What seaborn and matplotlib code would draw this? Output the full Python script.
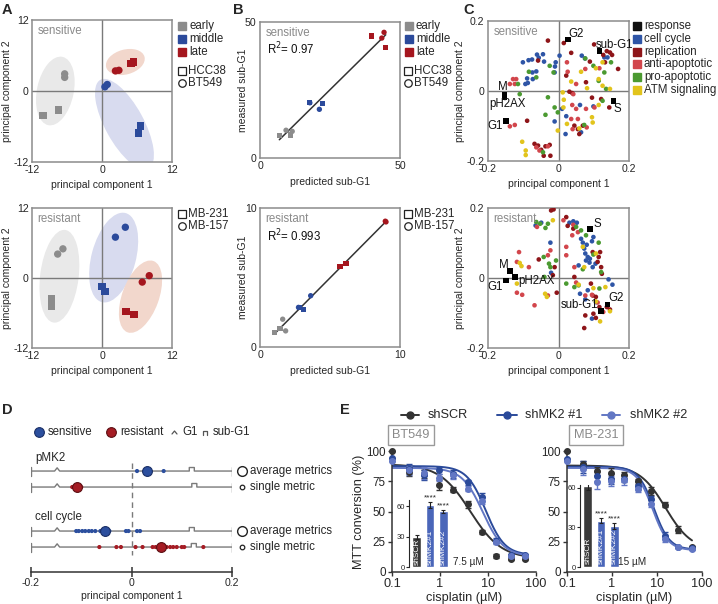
import numpy as np
import pandas as pd
import matplotlib
matplotlib.use("Agg")
import matplotlib.pyplot as plt
from matplotlib.patches import Ellipse
from matplotlib.lines import Line2D
import seaborn as sns

sns.set_style("ticks")
plt.rcParams["font.family"] = ["Liberation Sans", "DejaVu Sans"]
plt.rcParams["axes.unicode_minus"] = False

# ---------------- data ----------------
stages = ["early", "early", "early", "early", "middle", "middle", "middle", "middle",
          "late", "late", "late", "late"]

# A: PCA of time points
a_sens_line = ["HCC38", "HCC38", "BT549", "BT549", "BT549", "BT549", "HCC38", "HCC38",
               "BT549", "BT549", "HCC38", "HCC38"]
a_sens_pc1 = [-10.1, -7.5, -6.4, -6.4, 0.5, 0.9, 6.6, 6.3, 2.3, 2.9, 5.0, 5.4]
a_sens_pc2 = [-4.1, -3.2, 2.9, 2.3, 0.7, 1.1, -5.9, -7.1, 3.4, 3.5, 4.6, 4.9]
a_res_line = ["MB-157", "MB-157", "MB-231", "MB-231", "MB-157", "MB-157", "MB-231", "MB-231",
              "MB-157", "MB-157", "MB-231", "MB-231"]
a_res_pc1 = [-7.6, -6.7, -8.7, -8.7, 2.3, 4.0, 0.0, 0.5, 6.9, 8.1, 4.1, 5.5]
a_res_pc2 = [4.1, 5.0, -3.6, -4.9, 7.0, 8.7, -1.5, -2.3, -0.7, 0.4, -5.7, -6.3]
# ellipses: centre x, centre y, major, minor, angle
a_sens_ell = {"early": (-8.0, 0.0, 11.8, 6.3, 78), "middle": (3.85, -5.6, 17.1, 6.6, -61),
              "late": (4.0, 4.9, 6.8, 4.2, 15)}
a_res_ell = {"early": (-7.3, 0.3, 16.0, 6.6, 83), "middle": (2.0, 3.5, 15.8, 7.6, 75),
             "late": (6.6, -3.2, 13.0, 6.3, 70)}

# B: predicted vs measured sub-G1
b_sens_line = ["HCC38", "HCC38", "BT549", "BT549"] * 3
b_sens_pred = [6.9, 11.0, 9.3, 11.5, 17.6, 22.4, 21.2, 17.8, 39.9, 44.9, 44.3, 43.5]
b_sens_meas = [8.2, 8.5, 10.2, 9.8, 20.5, 20.1, 17.9, 20.3, 44.9, 40.6, 46.2, 44.1]
b_res_line = ["MB-231", "MB-231", "MB-157", "MB-157"] * 3
b_res_pred = [1.02, 1.43, 1.62, 1.83, 2.81, 3.10, 3.62, 2.75, 5.71, 6.14, 9.00, 8.95]
b_res_meas = [1.04, 1.33, 2.00, 1.16, 2.82, 2.70, 3.69, 2.85, 5.78, 6.02, 9.00, 9.05]

# C: PCA loadings per metric class
c_sens_response = [("G2", 0.026, 0.147), ("sub-G1", 0.116, 0.114), ("M", -0.153, -0.011),
                   ("pH2AX", -0.153, -0.018), ("G1", -0.148, -0.085), ("S", 0.156, -0.028)]
c_sens_cellcycle = [(-0.101, 0.082), (-0.085, 0.088), (-0.075, 0.090), (-0.061, 0.104),
                    (-0.056, 0.095), (-0.044, 0.105), (-0.041, 0.084), (-0.008, 0.082),
                    (-0.010, 0.070), (0.003, 0.101), (-0.063, 0.056), (-0.074, 0.053),
                    (-0.089, 0.036), (-0.073, 0.034), (-0.087, 0.023), (-0.094, 0.020),
                    (-0.011, 0.053), (0.066, 0.101), (0.075, 0.093), (0.130, 0.096),
                    (0.139, 0.096), (0.010, -0.051), (0.061, -0.040), (0.099, -0.044),
                    (0.022, -0.072), (-0.011, -0.087), (0.020, -0.123), (0.064, -0.118)]
c_sens_replication = [(-0.030, 0.144), (0.015, 0.137), (0.036, 0.109), (0.101, 0.133),
                      (0.127, 0.103), (0.137, 0.114), (0.146, 0.110), (0.152, 0.103),
                      (0.169, 0.063), (0.089, 0.084), (0.132, 0.082), (-0.058, 0.087),
                      (0.022, 0.044), (0.078, 0.025), (0.031, -0.002), (0.039, -0.006),
                      (0.095, -0.019), (0.121, -0.023), (0.144, -0.047), (-0.089, -0.085),
                      (0.045, -0.099), (0.055, -0.109), (0.069, -0.099), (0.059, -0.123),
                      (-0.068, -0.151), (-0.058, -0.156), (-0.037, -0.158), (-0.025, -0.154),
                      (-0.049, -0.168), (-0.042, -0.185), (-0.023, -0.185)]
c_sens_antiapop = [(-0.129, 0.034), (-0.120, 0.034), (-0.138, 0.020), (-0.124, 0.020),
                   (0.024, 0.082), (0.026, 0.055), (0.076, 0.063), (0.050, 0.020),
                   (0.116, 0.065), (0.042, -0.009), (0.039, -0.040), (0.050, -0.051),
                   (0.036, -0.080), (0.055, -0.080), (0.078, -0.051), (0.080, -0.104),
                   (0.040, -0.109), (-0.138, -0.101), (-0.124, -0.097), (-0.063, -0.161),
                   (-0.030, -0.158), (-0.054, -0.170), (0.102, -0.047)]
c_sens_proapop = [(-0.084, 0.055), (-0.063, 0.039), (-0.025, 0.072), (-0.014, 0.053),
                  (-0.115, 0.020), (-0.110, -0.009), (-0.030, -0.018), (-0.011, -0.047),
                  (-0.037, -0.068), (0.076, 0.093), (0.099, 0.072), (0.149, 0.082),
                  (0.130, 0.053), (0.114, 0.029), (0.135, 0.006), (0.073, -0.097),
                  (0.125, -0.028), (-0.002, -0.061), (-0.044, -0.175)]
c_sens_atm = [(0.064, 0.055), (0.036, 0.027), (0.125, 0.082), (0.106, 0.065), (0.114, 0.034),
              (0.125, 0.015), (0.146, 0.006), (0.081, 0.008), (0.012, -0.004), (0.015, -0.025),
              (0.114, -0.040), (0.095, -0.075), (0.097, -0.090), (0.059, -0.107),
              (0.024, -0.094), (-0.002, -0.113), (-0.103, -0.145), (-0.093, -0.170),
              (-0.093, -0.183), (0.014, -0.047)]

c_res_response = [("S", 0.089, 0.139), ("M", -0.138, 0.019), ("pH2AX", -0.124, 0.003),
                  ("G1", -0.148, -0.007), ("G2", 0.139, -0.076), ("sub-G1", 0.121, -0.095)]
c_res_cellcycle = [(-0.065, 0.150), (-0.049, 0.158), (0.031, 0.158), (0.042, 0.162),
                   (0.052, 0.158), (0.064, 0.112), (0.069, 0.101), (0.080, 0.095),
                   (0.073, 0.084), (0.076, 0.070), (0.083, 0.060), (0.078, 0.050),
                   (0.088, 0.044), (0.097, 0.031), (0.057, 0.036), (0.089, 0.055),
                   (0.099, 0.117), (0.095, 0.105), (-0.023, 0.101), (0.061, -0.045),
                   (0.083, -0.035), (0.076, -0.061), (0.142, -0.004), (0.153, -0.019),
                   (0.095, -0.116), (0.106, -0.069), (0.105, 0.041), (-0.021, 0.015)]
c_res_replication = [(-0.021, 0.193), (-0.014, 0.196), (0.022, 0.174), (0.026, 0.149),
                     (0.042, 0.141), (0.097, 0.074), (0.118, 0.074), (0.114, 0.060),
                     (0.111, 0.046), (0.121, 0.031), (0.123, 0.012), (-0.056, 0.053),
                     (-0.011, 0.031), (-0.016, 0.008), (-0.005, -0.042), (0.092, -0.016),
                     (0.097, -0.050), (0.106, -0.054), (0.076, -0.107), (0.099, -0.102),
                     (0.106, -0.114), (0.073, -0.143), (0.116, -0.083), (0.137, -0.083),
                     (0.146, -0.090), (0.045, 0.003)]
c_res_antiapop = [(-0.061, 0.146), (0.014, 0.165), (0.042, 0.152), (0.022, 0.089),
                  (0.039, 0.122), (0.055, 0.131), (-0.112, 0.074), (-0.118, 0.046),
                  (-0.084, 0.031), (-0.030, 0.065), (-0.023, 0.079), (0.022, 0.065),
                  (0.045, 0.031), (-0.118, -0.042), (-0.103, -0.048), (-0.068, -0.078),
                  (0.050, -0.013), (0.076, -0.050), (0.095, -0.048), (0.111, -0.070),
                  (0.127, -0.097), (-0.030, -0.050)]
c_res_proapop = [(-0.063, 0.160), (-0.052, 0.155), (-0.037, 0.143), (-0.030, 0.155),
                 (0.050, 0.146), (0.064, 0.136), (0.114, 0.101), (0.099, 0.067),
                 (-0.042, 0.060), (-0.027, 0.041), (-0.023, 0.031), (-0.040, 0.003),
                 (-0.007, 0.050), (0.022, -0.016), (0.045, -0.026), (0.057, -0.021),
                 (0.116, -0.030), (0.069, 0.025), (0.121, 0.017), (0.078, 0.122)]
c_res_atm = [(-0.016, 0.165), (0.069, 0.089), (0.106, 0.070), (0.073, 0.031), (-0.110, 0.043),
             (-0.105, 0.034), (-0.118, -0.016), (-0.038, -0.045), (-0.033, -0.054),
             (0.057, -0.019), (0.099, -0.029), (0.133, -0.026), (0.106, -0.067),
             (0.118, -0.124), (0.146, -0.095)]

# D: projection of single / averaged metrics on PC1
d_pmk2_sens = [0.011, 0.026, 0.036, 0.064]
d_pmk2_sens_avg = 0.031
d_pmk2_res = [-0.118, -0.112, -0.105, -0.100]
d_pmk2_res_avg = -0.108
d_cc_sens = [-0.110, -0.105, -0.098, -0.092, -0.085, -0.079, -0.072, -0.062, -0.055, -0.044,
             -0.011, -0.006, 0.011, 0.017]
d_cc_sens_avg = -0.052
d_cc_res = [-0.064, -0.030, -0.021, 0.008, 0.022, 0.042, 0.048, 0.057, 0.070, 0.077, 0.083,
            0.090, 0.100, 0.105, 0.143]
d_cc_res_avg = 0.058
d_g1_pos = -0.148
d_subg1_pos = [0.120, 0.125, 0.120, 0.124]

# E: MTT dose response
dose = [0.1, 0.23, 0.47, 0.94, 1.875, 3.75, 7.5, 15, 30, 60]
bt_scr = [100, 83, 81, 72, 68, 56, 33, 13, 11, 11]
bt_scr_err = [0, 4, 3, 4, 2, 3, 2, 1.5, 1, 1]
bt_mk1 = [94, 85, 80, 84, 81, 74, 62, 26, 14, 14]
bt_mk1_err = [0, 4, 4, 3, 3, 2, 3, 2, 1, 1]
bt_mk2 = [92, 84, 82, 78, 80, 69, 59, 25, 13, 13]
bt_mk2_err = [0, 4, 5, 3, 3, 2, 3, 2, 1, 1]
mb_scr = [100, 89, 83.5, 82, 80, 75, 67, 55.5, 35, 20.5]
mb_scr_err = [0, 3, 3, 4, 3, 2, 3, 2, 3, 1]
mb_mk1 = [93, 87, 79, 77, 77, 71, 60, 30, 20.5, 20]
mb_mk1_err = [0, 5, 4, 4, 3, 3, 3, 3, 1, 1]
mb_mk2 = [92, 85, 74, 75, 76, 69, 56.5, 27.5, 20.5, 19]
mb_mk2_err = [0, 5, 5, 4, 4, 3, 3, 3, 1, 1]
# 4PL fit parameters: top, bottom, EC50, hill
bt_fit = {"shSCR": (89, 11, 4.3, 1.35), "shMK2 #1": (87.5, 14, 9.0, 2.2), "shMK2 #2": (86, 13, 7.8, 2.0)}
mb_fit = {"shSCR": (88, 18, 15.5, 1.5), "shMK2 #1": (87, 18.5, 8.5, 2.5), "shMK2 #2": (86, 18, 8.0, 2.5)}
bar_labels = ["shSCR", "shMK2#1", "shMK2#2"]
bt_bar = [30, 61, 55]
bt_bar_err = [2, 3, 1.5]
mb_bar = [61, 35, 31]
mb_bar_err = [3, 2, 2.5]

# ---------------- style ----------------
stage_pal = {"early": "#8c8c8c", "middle": "#2b4a9b", "late": "#a5161e"}
ell_col = {"early": "#e9e9e9", "middle": "#d8dbef", "late": "#f2d7cc"}
cat_pal = {"cell cycle": "#2e55a6", "replication": "#8e1519", "anti-apoptotic": "#d2464c",
           "pro-apoptotic": "#4b9a31", "ATM signaling": "#e2c41c"}
FRAME = "#8c8c8c"
ZERO = "#7a7a7a"
TXT_GRAY = "#8a8a8a"
LAB = 7.5
TICK = 7.6
LEG = 8.3

W, H = 718, 604
fig = plt.figure(figsize=(W / 100, H / 100), dpi=100)


def rect(l, t, r, b):
    return [l / W, 1 - b / H, (r - l) / W, (b - t) / H]


def fp(x, y):
    return x / W, 1 - y / H


def fig_marker(x, y, **kw):
    X, Y = fp(x, y)
    fig.add_artist(Line2D([X], [Y], transform=fig.transFigure, ls="", **kw))


def fig_path(xs, ys, **kw):
    fig.add_artist(Line2D([x / W for x in xs], [1 - y / H for y in ys],
                          transform=fig.transFigure, **kw))


def fig_text(x, y, s, **kw):
    X, Y = fp(x, y)
    kw.setdefault("va", "center")
    fig.text(X, Y, s, **kw)


def boxed(ax):
    for sp in ax.spines.values():
        sp.set_visible(True)
        sp.set_color(FRAME)
        sp.set_linewidth(1.1)
    ax.tick_params(length=0, pad=2.5, labelsize=TICK)


def color_legend(x, y0, items, step=12.8):
    for i, (lab, col) in enumerate(items):
        fig_marker(x, y0 + i * step, marker="s", ms=5.8, mfc=col, mec=col)
        fig_text(x + 7, y0 + i * step, lab, fontsize=LEG)


def shape_legend(x, y0, items, step=12.3):
    for i, (lab, m) in enumerate(items):
        fig_marker(x, y0 + i * step, marker=m, ms=5.4, mfc="white", mec="#222222", mew=0.9)
        fig_text(x + 6, y0 + i * step, lab, fontsize=LEG)


# ---------------- A ----------------
def pca_panel(box, pc1, pc2, lines, markers, ells, title):
    ax = fig.add_axes(rect(*box))
    for st, (cx, cy, w, h, ang) in ells.items():
        ax.add_patch(Ellipse((cx, cy), w, h, angle=ang, facecolor=ell_col[st],
                             edgecolor="none", zorder=0))
    ax.axhline(0, color=ZERO, lw=1, zorder=1)
    ax.axvline(0, color=ZERO, lw=1, zorder=1)
    df = pd.DataFrame({"pc1": pc1, "pc2": pc2, "stage": stages, "line": lines})
    sns.scatterplot(data=df, x="pc1", y="pc2", hue="stage", style="line", palette=stage_pal,
                    markers=markers, s=28, edgecolor="none", legend=False, ax=ax, zorder=3)
    ax.set(xlim=(-12, 12), ylim=(-12, 12), xticks=[-12, 0, 12], yticks=[-12, 0, 12])
    ax.set_xlabel("principal component 1", fontsize=LAB, labelpad=3)
    ax.set_ylabel("principal component 2", fontsize=LAB, labelpad=1)
    ax.text(0.04, 0.965, title, transform=ax.transAxes, color=TXT_GRAY, va="top", fontsize=LEG)
    boxed(ax)
    return ax


pca_panel((32, 20, 172, 162), a_sens_pc1, a_sens_pc2, a_sens_line,
          {"HCC38": "s", "BT549": "o"}, a_sens_ell, "sensitive")
pca_panel((32, 208, 172, 348), a_res_pc1, a_res_pc2, a_res_line,
          {"MB-231": "s", "MB-157": "o"}, a_res_ell, "resistant")
color_legend(182, 26, [(s, stage_pal[s]) for s in ["early", "middle", "late"]])
shape_legend(182, 71, [("HCC38", "s"), ("BT549", "o")])
shape_legend(182, 214, [("MB-231", "s"), ("MB-157", "o")])


# ---------------- B ----------------
def fit_panel(box, pred, meas, lines, markers, lim, title, r2):
    ax = fig.add_axes(rect(*box))
    df = pd.DataFrame({"pred": pred, "meas": meas, "stage": stages, "line": lines})
    sns.regplot(data=df, x="pred", y="meas", scatter=False, ci=None, ax=ax,
                line_kws={"color": "#333333", "lw": 1.1, "zorder": 2})
    sns.scatterplot(data=df, x="pred", y="meas", hue="stage", style="line", palette=stage_pal,
                    markers=markers, s=15, edgecolor="none", legend=False, ax=ax, zorder=3)
    ax.set(xlim=(0, lim), ylim=(0, lim), xticks=[0, lim], yticks=[0, lim])
    ax.set_xlabel("predicted sub-G1", fontsize=LAB, labelpad=4)
    ax.set_ylabel("measured sub-G1", fontsize=LAB, labelpad=-2)
    ax.text(0.04, 0.965, title, transform=ax.transAxes, color=TXT_GRAY, va="top", fontsize=LEG)
    ax.text(0.05, 0.80, r2, transform=ax.transAxes, color="#111111", va="center", fontsize=LEG)
    boxed(ax)


fit_panel((260, 22, 400, 158), b_sens_pred, b_sens_meas, b_sens_line,
          {"HCC38": "s", "BT549": "o"}, 50, "sensitive", "R$^2$= 0.97")
fit_panel((260, 208, 400, 347), b_res_pred, b_res_meas, b_res_line,
          {"MB-231": "s", "MB-157": "o"}, 10, "resistant", "R$^2$= 0.993")
color_legend(409, 26, [(s, stage_pal[s]) for s in ["early", "middle", "late"]])
shape_legend(408, 71, [("HCC38", "s"), ("BT549", "o")])
shape_legend(408, 214, [("MB-231", "s"), ("MB-157", "o")])


# ---------------- C ----------------
def loading_panel(box, groups, response, offsets, title):
    ax = fig.add_axes(rect(*box))
    ax.axhline(0, color=ZERO, lw=1, zorder=1)
    ax.axvline(0, color=ZERO, lw=1, zorder=1)
    rows = [(cat, x, y) for cat, pts in groups for x, y in pts]
    df = pd.DataFrame(rows, columns=["cat", "pc1", "pc2"])
    sns.scatterplot(data=df, x="pc1", y="pc2", hue="cat", palette=cat_pal, s=11,
                    edgecolor="none", legend=False, ax=ax, zorder=3)
    rdf = pd.DataFrame(response, columns=["name", "pc1", "pc2"])
    sns.scatterplot(data=rdf, x="pc1", y="pc2", color="black", marker="s", s=17,
                    edgecolor="none", legend=False, ax=ax, zorder=4)
    for name, x, y in response:
        dx, dy, ha = offsets[name]
        ax.annotate(name, (x, y), xytext=(dx, dy), textcoords="offset points", ha=ha,
                    va="center", fontsize=LEG, color="#111111", zorder=5)
    ax.set(xlim=(-0.2, 0.2), ylim=(-0.2, 0.2), xticks=[-0.2, 0, 0.2], yticks=[-0.2, 0, 0.2])
    ax.set_xticklabels(["-0.2", "0", "0.2"])
    ax.set_yticklabels(["-0.2", "0", "0.2"])
    ax.set_xlabel("principal component 1", fontsize=LAB, labelpad=3)
    ax.set_ylabel("principal component 2", fontsize=LAB, labelpad=1)
    ax.text(0.04, 0.965, title, transform=ax.transAxes, color=TXT_GRAY, va="top", fontsize=LEG)
    boxed(ax)


loading_panel((488, 21, 629, 161),
              [("cell cycle", c_sens_cellcycle), ("replication", c_sens_replication),
               ("anti-apoptotic", c_sens_antiapop), ("pro-apoptotic", c_sens_proapop),
               ("ATM signaling", c_sens_atm)], c_sens_response,
              {"G2": (0.5, 4.3, "left"), "sub-G1": (-2.4, 4.3, "left"), "M": (-1.5, 5.5, "center"),
               "pH2AX": (2.0, -4.8, "center"), "G1": (-2.5, -4.0, "right"), "S": (0, -5.8, "left")},
              "sensitive")
loading_panel((488, 208, 629, 348),
              [("cell cycle", c_res_cellcycle), ("replication", c_res_replication),
               ("anti-apoptotic", c_res_antiapop), ("pro-apoptotic", c_res_proapop),
               ("ATM signaling", c_res_atm)], c_res_response,
              {"S": (2.4, 4.0, "left"), "M": (-0.5, 4.3, "right"), "pH2AX": (2.4, -3.0, "left"),
               "G1": (-2.5, -4.8, "right"), "G2": (0.7, 4.8, "left"), "sub-G1": (-2.0, 4.3, "right")},
              "resistant")
color_legend(637, 26, [("response", "#111111")] + list(cat_pal.items()), step=12.8)


# ---------------- D ----------------
axd = fig.add_axes(rect(31, 440, 232, 572))
row_y = [0, 1, 3.75, 4.75]
axd.set(xlim=(-0.2, 0.2), ylim=(6.31, -1.94))
sns.despine(ax=axd, left=True)
axd.spines["bottom"].set_color("#333333")
axd.spines["bottom"].set_linewidth(1.1)
axd.set_yticks([])
axd.set_xticks([-0.2, 0, 0.2])
axd.set_xticklabels(["-0.2", "0", "0.2"])
axd.tick_params(axis="x", direction="inout", length=7, width=1.1, labelsize=TICK, pad=1,
                color="#333333")
axd.patch.set_alpha(0)
LINE_GRAY = "#7a7a7a"
for r, sg in zip(row_y, d_subg1_pos):
    xs = [-0.2, d_g1_pos - 0.005, d_g1_pos, d_g1_pos + 0.005, sg - 0.005, sg - 0.005,
          sg + 0.005, sg + 0.005, 0.2]
    ys = [r, r, r - 0.2, r, r, r - 0.22, r - 0.22, r, r]
    axd.plot(xs, ys, color=LINE_GRAY, lw=1, zorder=1)
    for ex in (-0.2, 0.2):
        axd.plot([ex, ex], [r - 0.28, r + 0.28], color=LINE_GRAY, lw=1, zorder=1)
axd.plot([0, 0], [row_y[0] - 0.5, row_y[3] + 0.5], color=LINE_GRAY, lw=1, ls=(0, (4, 3)), zorder=1)

SENS = "#2c4f9e"
RES = "#a51c24"
d_rows = [(d_pmk2_sens, d_pmk2_sens_avg, SENS, "#1a2f66"), (d_pmk2_res, d_pmk2_res_avg, RES, "#5c0f13"),
          (d_cc_sens, d_cc_sens_avg, SENS, "#1a2f66"), (d_cc_res, d_cc_res_avg, RES, "#5c0f13")]
for r, (singles, avg, col, edge) in zip(row_y, d_rows):
    sns.scatterplot(x=singles, y=[r] * len(singles), color=col, s=9, edgecolor="none",
                    ax=axd, zorder=3, legend=False)
    sns.scatterplot(x=[avg], y=[r], color=col, s=50, edgecolor=edge, linewidth=0.8,
                    ax=axd, zorder=4, legend=False)
axd.set_xlabel("principal component 1", fontsize=LAB, labelpad=2)
fig_text(35, 458, "pMK2", fontsize=LEG)
fig_text(35, 517, "cell cycle", fontsize=LEG)
for yy in (471, 531):
    fig_marker(242, yy, marker="o", ms=7, mfc="white", mec="#222222", mew=1)
    fig_text(250, yy, "average metrics", fontsize=LEG)
for yy in (487, 547):
    fig_marker(242, yy, marker="o", ms=3.3, mfc="white", mec="#222222", mew=0.9)
    fig_text(250, yy, "single metric", fontsize=LEG)
# legend
fig_marker(39, 432, marker="o", ms=7, mfc=SENS, mec="#1a2f66", mew=0.8)
fig_text(48, 432, "sensitive", fontsize=LEG)
fig_marker(111, 432, marker="o", ms=7, mfc=RES, mec="#5c0f13", mew=0.8)
fig_text(120, 432, "resistant", fontsize=LEG)
fig_path([172, 174.5, 177], [434, 431, 434], color="#555555", lw=0.9)
fig_text(182, 432, "G1", fontsize=LEG)
fig_path([203, 203, 207, 207], [434.5, 430.5, 430.5, 434.5], color="#555555", lw=0.9)
fig_text(213, 432, "sub-G1", fontsize=LEG)


# ---------------- E ----------------
E_COL = {"shSCR": "#333333", "shMK2 #1": "#2b4a9a", "shMK2 #2": "#6277c4"}
BAR_COL = ["#3a3a3a", "#4a66b9", "#4a66b9"]
EF = 9.2
ETICK = 8.4


def four_pl(x, top, bottom, ec50, hill):
    return bottom + (top - bottom) / (1 + (x / ec50) ** hill)


def mtt_panel(box, series, fits, name, name_xy, inset_box, inset_top, bars, bar_err, conc, conc_xy,
              ylabel):
    ax = fig.add_axes(rect(*box))
    xs = np.logspace(-1, np.log10(60), 200)
    for lab, (vals, err) in series.items():
        col = E_COL[lab]
        sns.lineplot(x=xs, y=four_pl(xs, *fits[lab]), color=col, lw=1.4, ax=ax, zorder=2)
        ax.errorbar(dose, vals, yerr=err, fmt="o", ms=4, color=col, ecolor=col, elinewidth=1,
                    capsize=2, capthick=1, clip_on=False, zorder=3)
    ax.set_xscale("log")
    ax.set(xlim=(0.1, 100), ylim=(0, 100))
    ax.set_xticks([0.1, 1, 10, 100])
    ax.set_xticklabels(["0.1", "1", "10", "100"])
    ax.xaxis.set_minor_locator(matplotlib.ticker.NullLocator())
    ax.set_yticks([0, 25, 50, 75, 100])
    sns.despine(ax=ax)
    for sp in ("left", "bottom"):
        ax.spines[sp].set_color("#333333")
        ax.spines[sp].set_linewidth(1.1)
    ax.tick_params(length=3, width=1, labelsize=ETICK, pad=1.5, color="#333333")
    ax.tick_params(axis="x", labelsize=EF)
    ax.set_xlabel("cisplatin (µM)", fontsize=EF, labelpad=1)
    if ylabel:
        ax.set_ylabel("MTT conversion (%)", fontsize=EF, labelpad=1)
    ax.patch.set_alpha(0)
    fig_text(*name_xy, name, fontsize=EF, color=TXT_GRAY, ha="center",
             bbox=dict(boxstyle="square,pad=0.35", fc="white", ec="#9a9a9a", lw=1))
    # inset bars
    axi = fig.add_axes(rect(*inset_box))
    sns.barplot(x=bar_labels, y=bars, hue=bar_labels, palette=BAR_COL, width=0.68, legend=False,
                ax=axi, saturation=1)
    axi.errorbar(range(3), bars, yerr=bar_err, fmt="none", ecolor="#222222", elinewidth=0.8,
                 capsize=1.5, capthick=0.8)
    axi.set(xlim=(-0.6, 2.6), ylim=(0, inset_top), yticks=[0, 30, 60], xticks=[])
    axi.set_xlabel("")
    axi.set_ylabel("")
    sns.despine(ax=axi, bottom=True)
    axi.spines["left"].set_linewidth(0.8)
    axi.tick_params(axis="y", length=2, width=0.8, labelsize=5.5, pad=1)
    axi.patch.set_alpha(0)
    for i, lab in enumerate(bar_labels):
        axi.text(i, 2, lab, rotation=90, ha="center", va="bottom", color="white", fontsize=6)
        if i > 0:
            axi.text(i, bars[i] + bar_err[i] + 0.5, "****", ha="center", va="bottom", fontsize=6)
    fig_text(*conc_xy, conc, fontsize=7.2, ha="left")


mtt_panel((392, 451, 536, 572),
          {"shSCR": (bt_scr, bt_scr_err), "shMK2 #1": (bt_mk1, bt_mk1_err),
           "shMK2 #2": (bt_mk2, bt_mk2_err)}, bt_fit, "BT549", (411, 435),
          (409, 500, 451, 567), 66, bt_bar, bt_bar_err, "7.5 µM", (453, 562), True)
mtt_panel((567, 451, 702, 572),
          {"shSCR": (mb_scr, mb_scr_err), "shMK2 #1": (mb_mk1, mb_mk1_err),
           "shMK2 #2": (mb_mk2, mb_mk2_err)}, mb_fit, "MB-231", (596, 435),
          (580, 485, 622, 567), 62, mb_bar, mb_bar_err, "15 µM", (618, 562), False)

for lab, (x0, x1, xt) in zip(["shSCR", "shMK2 #1", "shMK2 #2"],
                             [(401, 419, 428), (497, 517, 525), (602, 620, 630)]):
    col = E_COL[lab]
    fig_path([x0, x1], [415, 415], color=col, lw=1.4)
    fig_marker((x0 + x1) / 2, 415, marker="o", ms=5, mfc=col, mec=col)
    fig_text(xt, 415, lab, fontsize=EF)

# panel letters
for letter, (x, y) in zip("ABCDE", [(2, 10), (233, 10), (463, 10), (2, 410), (340, 410)]):
    fig_text(x, y, letter, fontsize=10.5, fontweight="bold", ha="left")

fig.savefig("out.png", dpi=100)
